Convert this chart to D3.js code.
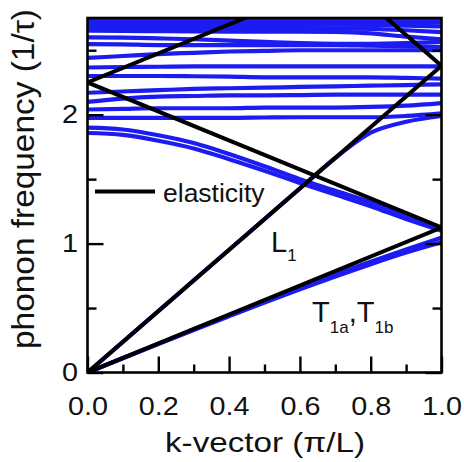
<!DOCTYPE html>
<html>
<head>
<meta charset="utf-8">
<script src="https://cdn.jsdelivr.net/npm/d3@7/dist/d3.min.js"></script>
<style>
  html, body { margin: 0; padding: 0; background: #fff; }
  svg { display: block; font-family: "Liberation Sans", Arial, Helvetica, sans-serif; }
</style>
</head>
<body>
<svg id="chart" width="464" height="462"></svg>
<script>
// ---------- data ----------
const kGrid = [0, 0.1, 0.2, 0.3, 0.4, 0.5, 0.6, 0.7, 0.8, 0.9, 1.0];

// simulated phonon branches (frequency in 1/tau at each kGrid point)
const acousticT1 = [0, 0.112, 0.224, 0.335, 0.445, 0.553, 0.660, 0.762, 0.860, 0.955, 1.045];
const acousticT2 = [0, 0.111, 0.221, 0.330, 0.437, 0.543, 0.646, 0.745, 0.840, 0.930, 1.010];
const acousticL  = [0, 0.238, 0.476, 0.714, 0.952, 1.190, 1.428, 1.664, 1.860, 1.945, 1.990];
const foldedTa   = [1.900, 1.885, 1.840, 1.780, 1.695, 1.600, 1.500, 1.410, 1.320, 1.220, 1.118];
const foldedTb   = [1.858, 1.843, 1.798, 1.738, 1.655, 1.565, 1.470, 1.380, 1.290, 1.190, 1.100];
const optical1980 = [1.975, 1.975, 1.975, 1.975, 1.975, 1.978, 1.980, 1.980, 1.980, 1.990, 2.010];
const optical2040 = [2.040, 2.045, 2.050, 2.050, 2.050, 2.055, 2.055, 2.055, 2.060, 2.070, 2.090];
const optical2100 = [2.100, 2.125, 2.140, 2.145, 2.150, 2.150, 2.152, 2.155, 2.155, 2.155, 2.155];
const optical2170 = [2.170, 2.180, 2.190, 2.200, 2.205, 2.210, 2.215, 2.220, 2.225, 2.230, 2.235];
const optical2300 = [2.300, 2.300, 2.300, 2.298, 2.295, 2.290, 2.290, 2.290, 2.290, 2.285, 2.280];
const optical2370 = [2.366, 2.370, 2.372, 2.375, 2.375, 2.375, 2.375, 2.375, 2.375, 2.375, 2.375];
const optical2440 = [2.440, 2.455, 2.470, 2.480, 2.490, 2.495, 2.500, 2.500, 2.500, 2.500, 2.500];
const optical2540 = [2.548, 2.545, 2.540, 2.540, 2.540, 2.540, 2.540, 2.540, 2.535, 2.530, 2.525];
const optical2600 = [2.600, 2.598, 2.592, 2.585, 2.575, 2.565, 2.555, 2.550, 2.550, 2.555, 2.565];
const optical2650 = [2.651, 2.650, 2.648, 2.646, 2.645, 2.645, 2.645, 2.642, 2.630, 2.605, 2.585];
const optical2675 = [2.672, 2.672, 2.672, 2.672, 2.672, 2.672, 2.672, 2.670, 2.665, 2.655, 2.640];
const optical2695 = [2.698, 2.698, 2.698, 2.698, 2.698, 2.698, 2.698, 2.698, 2.695, 2.690, 2.685];
const optical2720 = [2.722, 2.722, 2.722, 2.722, 2.722, 2.722, 2.722, 2.722, 2.720, 2.718, 2.715];
const optical2745 = [2.745, 2.745, 2.745, 2.745, 2.745, 2.745, 2.745, 2.745, 2.745, 2.743, 2.740];

const phononBranches = [acousticT1, acousticT2, acousticL, foldedTa, foldedTb,
  optical1980, optical2040, optical2100, optical2170, optical2300, optical2370,
  optical2440, optical2540, optical2600, optical2650, optical2675, optical2695,
  optical2720, optical2745];

// elasticity (sound velocities, in (1/tau)/(pi/L)) and zone foldings
const soundVelocities = [1.125, 2.38];      // transverse, longitudinal
const foldOrders = [0, 1, -1, 2];          // omega = v*|k - 2m|

const xTicksMajor = [0, 0.2, 0.4, 0.6, 0.8, 1.0];
const xTicksMinor = [0.1, 0.3, 0.5, 0.7, 0.9];
const yTicksMajor = [0, 1, 2];
const yTicksMinor = [0.5, 1.5, 2.5];

// ---------- layout ----------
const svg = d3.select("#chart");
const mLeft = 87.5, mRight = 441.5, mTop = 18, mBottom = 372.5;
const x = d3.scaleLinear().domain([0, 1]).range([mLeft, mRight]);
const y = d3.scaleLinear().domain([0, 2.75]).range([mBottom, mTop]);

svg.append("defs").append("clipPath").attr("id", "plotclip")
  .append("rect").attr("x", mLeft).attr("y", mTop)
  .attr("width", mRight - mLeft).attr("height", mBottom - mTop);

const plot = svg.append("g").attr("clip-path", "url(#plotclip)");

const line = d3.line()
  .x(d => x(d[0])).y(d => y(d[1]))
  .curve(d3.curveMonotoneX);

// blue simulated branches
plot.selectAll("path.branch")
  .data(phononBranches)
  .join("path")
  .attr("class", "branch")
  .attr("d", vals => line(kGrid.map((k, i) => [k, vals[i]])))
  .attr("fill", "none")
  .attr("stroke", "#1c1cf2")
  .attr("stroke-width", 4.2)
  .attr("stroke-linecap", "round");

// black elasticity lines
const elastic = [];
soundVelocities.forEach(v => {
  foldOrders.forEach(m => {
    elastic.push([0, 1].map(k => [k, v * Math.abs(k - 2 * m)]));
  });
});
const straight = d3.line().x(d => x(d[0])).y(d => y(d[1]));
plot.selectAll("path.elastic")
  .data(elastic)
  .join("path")
  .attr("class", "elastic")
  .attr("d", straight)
  .attr("fill", "none")
  .attr("stroke", "#000")
  .attr("stroke-width", 4)
  .attr("stroke-linecap", "round");

// ---------- axes ----------
function styleAxis(g) {
  g.select(".domain").remove();
  g.selectAll(".tick line").attr("stroke", "#000").attr("stroke-width", 2.4);
}
svg.append("g").attr("transform", `translate(0,${mBottom})`)
  .call(d3.axisBottom(x).tickValues(xTicksMinor).tickSize(-8).tickFormat(""))
  .call(styleAxis);
const xAx = svg.append("g").attr("transform", `translate(0,${mBottom})`)
  .call(d3.axisBottom(x).tickValues(xTicksMajor).tickSize(-16).tickPadding(24.5)
    .tickFormat(d3.format(".1f")))
  .call(styleAxis);
xAx.selectAll("text")
  .attr("fill", "#111").attr("font-size", 25.5)
  .attr("textLength", 40).attr("lengthAdjust", "spacingAndGlyphs");

svg.append("g").attr("transform", `translate(${mLeft},0)`)
  .call(d3.axisLeft(y).tickValues(yTicksMinor).tickSize(-9).tickFormat(""))
  .call(styleAxis);
const yAx = svg.append("g").attr("transform", `translate(${mLeft},0)`)
  .call(d3.axisLeft(y).tickValues(yTicksMajor).tickSize(-16).tickPadding(9.5)
    .tickFormat(d3.format("d")))
  .call(styleAxis);
yAx.selectAll("text")
  .attr("fill", "#111").attr("font-size", 25.5)
  .attr("textLength", 16).attr("lengthAdjust", "spacingAndGlyphs");

svg.append("g").attr("transform", `translate(${mRight},0)`)
  .call(d3.axisRight(y).tickValues(yTicksMinor).tickSize(-9).tickFormat(""))
  .call(styleAxis);
svg.append("g").attr("transform", `translate(${mRight},0)`)
  .call(d3.axisRight(y).tickValues(yTicksMajor).tickSize(-16).tickFormat(""))
  .call(styleAxis);

// frame
svg.append("rect")
  .attr("x", mLeft).attr("y", mTop)
  .attr("width", mRight - mLeft).attr("height", mBottom - mTop)
  .attr("fill", "none").attr("stroke", "#000").attr("stroke-width", 2.6);

// axis titles
svg.append("text")
  .attr("x", 265).attr("y", 451.5)
  .attr("text-anchor", "middle")
  .attr("font-size", 28).attr("fill", "#111")
  .attr("textLength", 200).attr("lengthAdjust", "spacingAndGlyphs")
  .text("k-vector (π/L)");

svg.append("text")
  .attr("transform", "translate(34,179) rotate(-90)")
  .attr("text-anchor", "middle")
  .attr("font-size", 31).attr("fill", "#111")
  .attr("textLength", 340).attr("lengthAdjust", "spacingAndGlyphs")
  .text("phonon frequency (1/τ)");

// legend
svg.append("line")
  .attr("x1", 95).attr("x2", 155)
  .attr("y1", 191.5).attr("y2", 191.5)
  .attr("stroke", "#000").attr("stroke-width", 3.8);
svg.append("text")
  .attr("x", 163).attr("y", 201.5)
  .attr("font-size", 26.5).attr("fill", "#111")
  .text("elasticity");

// branch labels
const lLab = svg.append("text").attr("x", 271).attr("y", 251.5)
  .attr("font-size", 29).attr("fill", "#111");
lLab.append("tspan").text("L");
lLab.append("tspan").attr("font-size", 17).attr("dy", 9).text("1");

const tLab = svg.append("text").attr("x", 312).attr("y", 321.5)
  .attr("font-size", 29).attr("fill", "#111");
tLab.append("tspan").text("T");
tLab.append("tspan").attr("font-size", 17).attr("dy", 11).text("1a");
tLab.append("tspan").attr("dy", -11).text(",");
tLab.append("tspan").text("T");
tLab.append("tspan").attr("font-size", 17).attr("dy", 11).text("1b");
</script>
</body>
</html>
